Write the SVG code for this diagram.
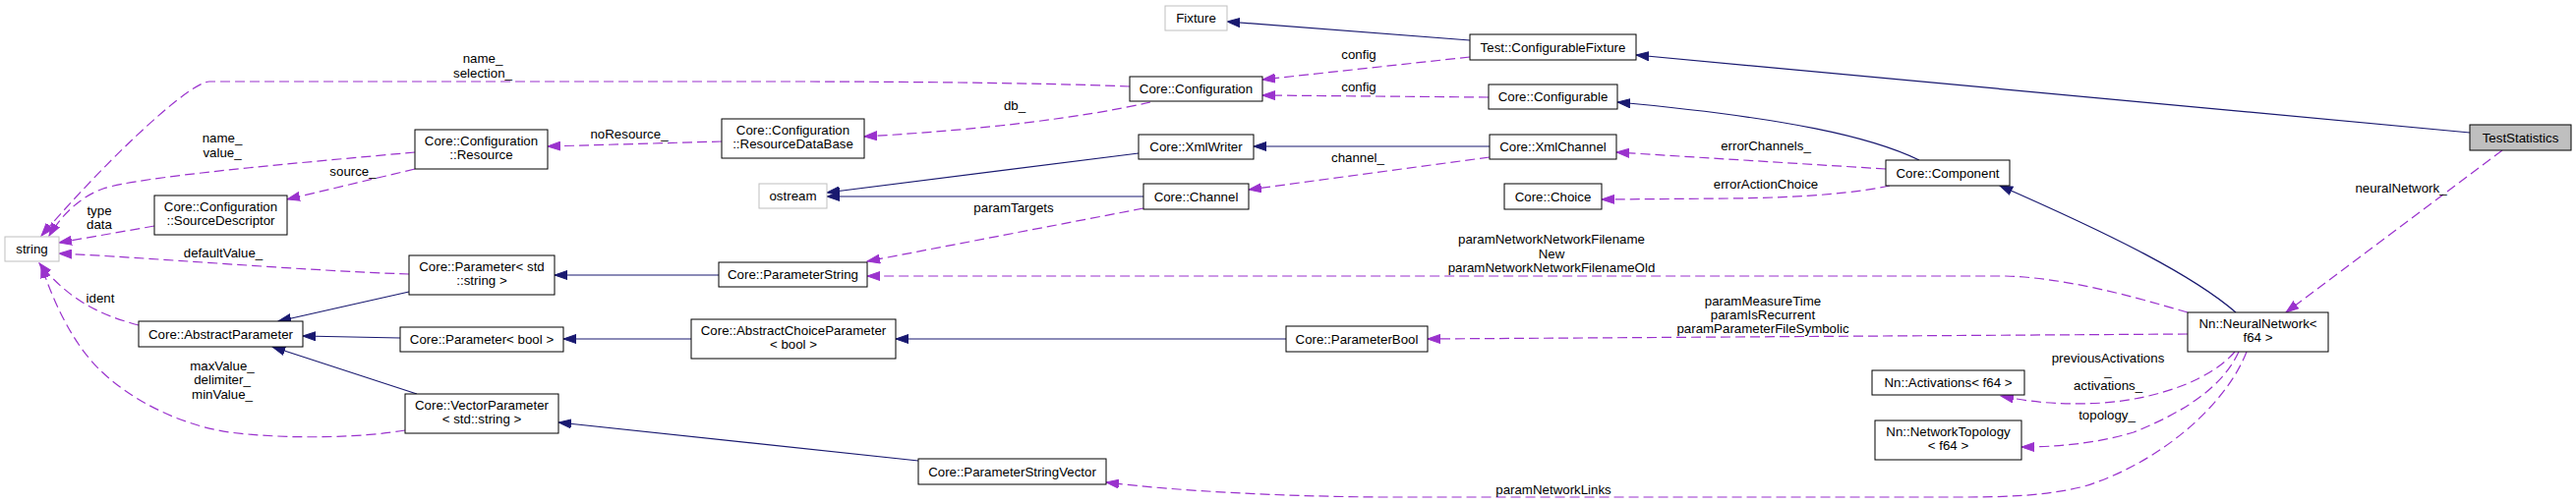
<svg xmlns="http://www.w3.org/2000/svg" width="2620" height="512" viewBox="0 0 2620 512">
<style>
text{font-family:"Liberation Sans",Arial,Helvetica,sans-serif;font-size:13.3px;fill:#000;text-anchor:middle}
.box{fill:#fff;stroke:#000;stroke-width:1}
.ext{fill:#fff;stroke:#bfbfbf;stroke-width:1}
.cur{fill:#bfbfbf;stroke:#000;stroke-width:1}
.inh{fill:none;stroke:#191970;stroke-width:1.2;marker-end:url(#an)}
.use{fill:none;stroke:#9a32cd;stroke-width:1.2;stroke-dasharray:10,5;marker-end:url(#ap)}
</style>
<defs>
<marker id="an" markerUnits="userSpaceOnUse" markerWidth="14" markerHeight="10" refX="13" refY="5" orient="auto"><path d="M0,0.5 L13,5 L0,9.5 Z" fill="#191970" stroke="#191970" stroke-width="1"/></marker>
<marker id="ap" markerUnits="userSpaceOnUse" markerWidth="14" markerHeight="10" refX="13" refY="5" orient="auto"><path d="M0,0.5 L13,5 L0,9.5 Z" fill="#9a32cd" stroke="#9a32cd" stroke-width="1"/></marker>
</defs>
<rect width="2620" height="512" fill="#fff"/>
<g id="edges">
<path class="inh" d="M1495,41 L1248,22"/>
<path class="inh" d="M2512,135 L1664,56"/>
<path class="inh" d="M1952,163 C1905,140 1820,120 1645,104"/>
<path class="inh" d="M2274,318 C2230,280 2150,240 2034,189"/>
<path class="inh" d="M1515,149 L1275,149"/>
<path class="inh" d="M1158,156 L841,196"/>
<path class="inh" d="M1163,200 L841,200"/>
<path class="inh" d="M731,280 L564,280"/>
<path class="inh" d="M703,345 L573,345"/>
<path class="inh" d="M1308,345 L911,345"/>
<path class="inh" d="M416,297 L283,327"/>
<path class="inh" d="M407,344 L308,342"/>
<path class="inh" d="M424,401 L277,353"/>
<path class="inh" d="M934,469 L568,430"/>
<path class="use" d="M1149,88 C1050,84 900,83 800,83 L213,83 C195,83 120,150 42,240"/>
<path class="use" d="M1495,58 L1284,81"/>
<path class="use" d="M1514,99 L1284,97"/>
<path class="use" d="M1170,104 C1100,120 1000,132 879,139"/>
<path class="use" d="M734,144 L557,149"/>
<path class="use" d="M422,155 C300,166 140,180 105,192 C85,199 65,215 50,240"/>
<path class="use" d="M422,172 L292,203"/>
<path class="use" d="M157,230 L60,247"/>
<path class="use" d="M416,279 C300,275 150,262 60,258"/>
<path class="use" d="M141,331 C100,320 70,305 40,268"/>
<path class="use" d="M412,438 C370,445 300,448 233,440 C180,432 130,405 100,375 C75,350 55,310 42,270"/>
<path class="use" d="M1515,160 L1270,193"/>
<path class="use" d="M1163,212 L882,266"/>
<path class="use" d="M2225,318 C2190,308 2110,283 2040,281 L882,281"/>
<path class="use" d="M2225,340 L1452,345"/>
<path class="use" d="M2273,358 C2250,385 2200,405 2140,410 C2090,413 2060,408 2035,403"/>
<path class="use" d="M2277,358 C2260,395 2220,420 2170,440 C2130,452 2090,455 2056,455"/>
<path class="use" d="M2285,358 C2265,410 2200,470 2120,495 C2080,505 2040,506 1990,506 L1400,506 C1300,505 1200,500 1125,491"/>
<path class="use" d="M1918,172 L1644,155"/>
<path class="use" d="M1922,189 C1890,196 1840,201 1760,202 L1629,203"/>
<path class="use" d="M2545,153 L2325,318"/>
<text x="491" y="64">name_</text><text x="491" y="79">selection_</text>
<text x="1382" y="60">config</text>
<text x="1382" y="93">config</text>
<text x="1032" y="112">db_</text>
<text x="640" y="141">noResource_</text>
<text x="226" y="145">name_</text><text x="226" y="160">value_</text>
<text x="359" y="179">source_</text>
<text x="101" y="219">type</text><text x="101" y="233">data</text>
<text x="227" y="262">defaultValue_</text>
<text x="102" y="308">ident</text>
<text x="226" y="377">maxValue_</text><text x="226" y="391">delimiter_</text><text x="226" y="406">minValue_</text>
<text x="1381" y="165">channel_</text>
<text x="1031" y="216">paramTargets</text>
<text x="1578" y="248">paramNetworkNetworkFilename</text><text x="1578" y="263">New</text><text x="1578" y="277">paramNetworkNetworkFilenameOld</text>
<text x="1793" y="311">paramMeasureTime</text><text x="1793" y="325">paramIsRecurrent</text><text x="1793" y="339">paramParameterFileSymbolic</text>
<text x="2144" y="369">previousActivations</text><text x="2144" y="382">_</text><text x="2144" y="397">activations_</text>
<text x="2143" y="427">topology_</text>
<text x="1580" y="503">paramNetworkLinks</text>
<text x="1796" y="153">errorChannels_</text>
<text x="1796" y="192">errorActionChoice</text>
<text x="2442" y="196">neuralNetwork_</text>
</g>
<g id="n_string"><rect class="ext" x="5" y="241" width="55" height="25"/><text x="32.5" y="258">string</text></g>
<g id="n_sourcedesc"><rect class="box" x="157" y="199" width="135" height="40"/><text x="224.5" y="215">Core::Configuration</text><text x="224.5" y="229">::SourceDescriptor</text></g>
<g id="n_resource"><rect class="box" x="422" y="132" width="135" height="40"/><text x="489.5" y="148">Core::Configuration</text><text x="489.5" y="162">::Resource</text></g>
<g id="n_resdb"><rect class="box" x="734" y="121" width="145" height="40"/><text x="806.5" y="137">Core::Configuration</text><text x="806.5" y="151">::ResourceDataBase</text></g>
<g id="n_ostream"><rect class="ext" x="772" y="187" width="69" height="25"/><text x="806.5" y="204">ostream</text></g>
<g id="n_fixture"><rect class="ext" x="1185" y="6" width="63" height="25"/><text x="1216.5" y="23">Fixture</text></g>
<g id="n_configuration"><rect class="box" x="1149" y="78" width="135" height="25"/><text x="1216.5" y="95">Core::Configuration</text></g>
<g id="n_xmlwriter"><rect class="box" x="1158" y="137" width="117" height="25"/><text x="1216.5" y="154">Core::XmlWriter</text></g>
<g id="n_channel"><rect class="box" x="1163" y="187" width="107" height="26"/><text x="1216.5" y="204.5">Core::Channel</text></g>
<g id="n_configfixture"><rect class="box" x="1495" y="35" width="169" height="26"/><text x="1579.5" y="52.5">Test::ConfigurableFixture</text></g>
<g id="n_configurable"><rect class="box" x="1514" y="86" width="131" height="25"/><text x="1579.5" y="103">Core::Configurable</text></g>
<g id="n_xmlchannel"><rect class="box" x="1515" y="137" width="129" height="25"/><text x="1579.5" y="154">Core::XmlChannel</text></g>
<g id="n_choice"><rect class="box" x="1530" y="187" width="99" height="26"/><text x="1579.5" y="204.5">Core::Choice</text></g>
<g id="n_component"><rect class="box" x="1918" y="163" width="126" height="26"/><text x="1981" y="180.5">Core::Component</text></g>
<g id="n_teststatistics"><rect class="cur" x="2512" y="127" width="103" height="26"/><text x="2563.5" y="144.5">TestStatistics</text></g>
<g id="n_neuralnetwork"><rect class="box" x="2225" y="318" width="143" height="40"/><text x="2296.5" y="334">Nn::NeuralNetwork&lt;</text><text x="2296.5" y="348">f64 &gt;</text></g>
<g id="n_activations"><rect class="box" x="1904" y="377" width="155" height="25"/><text x="1981.5" y="394">Nn::Activations&lt; f64 &gt;</text></g>
<g id="n_topology"><rect class="box" x="1907" y="428" width="149" height="40"/><text x="1981.5" y="444">Nn::NetworkTopology</text><text x="1981.5" y="458">&lt; f64 &gt;</text></g>
<g id="n_paramstringvector"><rect class="box" x="934" y="467" width="191" height="26"/><text x="1029.5" y="484.5">Core::ParameterStringVector</text></g>
<g id="n_parambool"><rect class="box" x="1308" y="332" width="144" height="26"/><text x="1380" y="349.5">Core::ParameterBool</text></g>
<g id="n_abschoice"><rect class="box" x="703" y="325" width="208" height="40"/><text x="807" y="341">Core::AbstractChoiceParameter</text><text x="807" y="355">&lt; bool &gt;</text></g>
<g id="n_paramstring"><rect class="box" x="731" y="267" width="151" height="25"/><text x="806.5" y="284">Core::ParameterString</text></g>
<g id="n_paramstdstring"><rect class="box" x="416" y="260" width="148" height="40"/><text x="490" y="276">Core::Parameter&lt; std</text><text x="490" y="290">::string &gt;</text></g>
<g id="n_absparam"><rect class="box" x="141" y="327" width="167" height="26"/><text x="224.5" y="344.5">Core::AbstractParameter</text></g>
<g id="n_parambool2"><rect class="box" x="407" y="333" width="166" height="25"/><text x="490" y="350">Core::Parameter&lt; bool &gt;</text></g>
<g id="n_vectorparam"><rect class="box" x="412" y="401" width="156" height="40"/><text x="490" y="417">Core::VectorParameter</text><text x="490" y="431">&lt; std::string &gt;</text></g>
</svg>
